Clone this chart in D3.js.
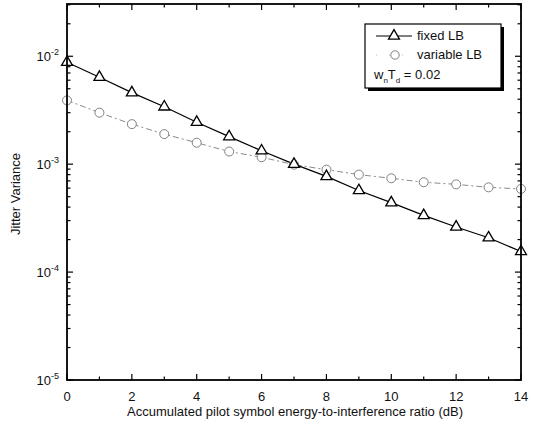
<!DOCTYPE html>
<html><head><meta charset="utf-8">
<script src="https://cdn.jsdelivr.net/npm/d3@7"></script>
<style>
html,body{margin:0;padding:0;background:#fff;}
text{font-family:"Liberation Sans",Arial,sans-serif;fill:#111;}
</style></head>
<body><svg id="c" width="534" height="432"></svg>
<script>
const xValues = [0,1,2,3,4,5,6,7,8,9,10,11,12,13,14];
const fixedLB = [8.8e-3,6.4e-3,4.6e-3,3.4e-3,2.45e-3,1.8e-3,1.33e-3,1.0e-3,7.7e-4,5.7e-4,4.4e-4,3.35e-4,2.62e-4,2.08e-4,1.55e-4];
const variableLB = [3.9e-3,3.0e-3,2.35e-3,1.9e-3,1.58e-3,1.31e-3,1.16e-3,9.9e-4,8.9e-4,8.0e-4,7.4e-4,6.8e-4,6.5e-4,6.1e-4,5.9e-4];
const xTicks = [0,2,4,6,8,10,12,14];
const yTickExps = [-5,-4,-3,-2];
const seriesNames = ["fixed LB","variable LB"];

const svg = d3.select("#c");
const L=67, R=521, T=4, B=380;
const x = d3.scaleLinear().domain([0,14]).range([L,R]);
const y = d3.scaleLog().domain([1e-5,3.05e-2]).range([B,T]);

const yMinor=[];
for(let e=-5;e<=-2;e++){for(let m=2;m<=9;m++){const v=m*Math.pow(10,e); if(v<=3.05e-2) yMinor.push(v);}}
const g = svg.append("g").attr("stroke","#000").attr("stroke-width",1.2);
yTickExps.forEach(e=>{const yy=y(Math.pow(10,e));
  g.append("line").attr("x1",L).attr("x2",L+6).attr("y1",yy).attr("y2",yy);
  g.append("line").attr("x1",R).attr("x2",R-6).attr("y1",yy).attr("y2",yy);});
yMinor.forEach(v=>{const yy=y(v);
  g.append("line").attr("x1",L).attr("x2",L+3.5).attr("y1",yy).attr("y2",yy);
  g.append("line").attr("x1",R).attr("x2",R-3.5).attr("y1",yy).attr("y2",yy);});
xValues.forEach(v=>{const xx=x(v), len = v%2===0?6:3.5;
  g.append("line").attr("x1",xx).attr("x2",xx).attr("y1",B).attr("y2",B-len);
  g.append("line").attr("x1",xx).attr("x2",xx).attr("y1",T).attr("y2",T+len);});

xTicks.forEach(v=>{svg.append("text").attr("x",x(v)).attr("y",B+21).attr("text-anchor","middle")
  .attr("font-size",13).text(v);});
yTickExps.forEach(e=>{const t=svg.append("text").attr("x",L-8).attr("y",y(Math.pow(10,e))+5)
  .attr("text-anchor","end").attr("font-size",13);
  t.append("tspan").text("10");
  t.append("tspan").attr("font-size",9).attr("dy",-6).text(e);});

svg.append("text").attr("x",(L+R)/2+1).attr("y",416).attr("text-anchor","middle").attr("font-size",13)
  .text("Accumulated pilot symbol energy-to-interference ratio (dB)");
svg.append("text").attr("transform",`translate(20,${(T+B)/2+2}) rotate(-90)`).attr("text-anchor","middle")
  .attr("font-size",13).text("Jitter Variance");

const line = d3.line().x((d,i)=>x(xValues[i])).y(d=>y(d));
svg.append("path").datum(variableLB).attr("d",line).attr("fill","none").attr("stroke","#8a8a8a")
  .attr("stroke-width",1).attr("stroke-dasharray","6,3,2,3");
svg.append("path").datum(fixedLB).attr("d",line).attr("fill","none").attr("stroke","#000").attr("stroke-width",1.2);
svg.selectAll(".circ").data(variableLB).enter().append("circle").attr("class","circ")
  .attr("cx",(d,i)=>x(xValues[i])).attr("cy",d=>y(d)).attr("r",4.5)
  .attr("fill","#fff").attr("stroke","#808080").attr("stroke-width",1);
const tri = d3.symbol().type(d3.symbolTriangle).size(52);
svg.selectAll(".tri").data(fixedLB).enter().append("path").attr("class","tri")
  .attr("transform",(d,i)=>`translate(${x(xValues[i])},${y(d)})`).attr("d",tri)
  .attr("fill","#fff").attr("stroke","#000").attr("stroke-width",1.3);

svg.append("rect").attr("x",L).attr("y",T).attr("width",R-L).attr("height",B-T)
  .attr("fill","none").attr("stroke","#000").attr("stroke-width",1.8);

const lx=365, ly=24, lw=136, lh=64;
svg.append("rect").attr("x",lx+3).attr("y",ly+3).attr("width",lw).attr("height",lh).attr("fill","#000");
svg.append("rect").attr("x",lx).attr("y",ly).attr("width",lw).attr("height",lh).attr("fill","#fff")
  .attr("stroke","#000").attr("stroke-width",1.2);
svg.append("line").attr("x1",376).attr("x2",412).attr("y1",36).attr("y2",36).attr("stroke","#000").attr("stroke-width",1.2);
svg.append("path").attr("transform","translate(394,36)").attr("d",tri).attr("fill","#fff").attr("stroke","#000").attr("stroke-width",1.3);
svg.append("line").attr("x1",376).attr("x2",412).attr("y1",55).attr("y2",55).attr("stroke","#bbb").attr("stroke-width",1).attr("stroke-dasharray","1,12");
svg.append("circle").attr("cx",395).attr("cy",55).attr("r",4.2).attr("fill","#fff").attr("stroke","#808080");
svg.append("text").attr("x",417).attr("y",40).attr("font-size",13).text(seriesNames[0]);
svg.append("text").attr("x",417).attr("y",59).attr("font-size",13).text(seriesNames[1]);
const wt = svg.append("text").attr("x",374).attr("y",79).attr("font-size",13);
wt.append("tspan").text("w");
wt.append("tspan").attr("font-size",8).attr("dy",4).text("n");
wt.append("tspan").attr("dy",-4).text("T");
wt.append("tspan").attr("font-size",8).attr("dy",4).text("d");
wt.append("tspan").attr("dy",-4).text(" = 0.02");
</script></body></html>
